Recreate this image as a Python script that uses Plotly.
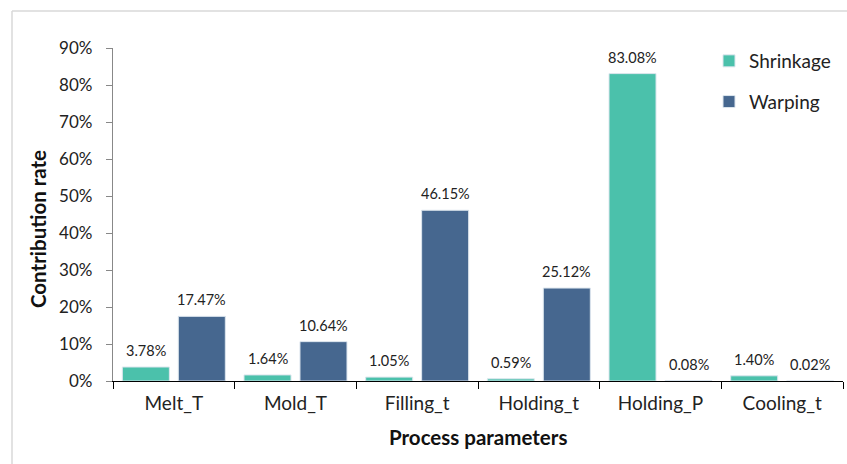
import plotly.graph_objects as go

# Process parameters and their contribution rates (%)
params = ["Melt_T", "Mold_T", "Filling_t", "Holding_t", "Holding_P", "Cooling_t"]
shrinkage = [3.78, 1.64, 1.05, 0.59, 83.08, 1.40]
warping = [17.47, 10.64, 46.15, 25.12, 0.08, 0.02]
y_ticks = [0, 10, 20, 30, 40, 50, 60, 70, 80, 90]

FONT = "Lato, 'Open Sans', sans-serif"
TEAL = "#4BC1AB"
NAVY = "#46678F"

W, H = 847, 464
L, R, T, B = 113, 4, 48, 83
pw, ph = W - L - R, H - T - B


def px_x(x):
    return (x - L) / pw


def px_y(y):
    return (H - B - y) / ph


fig = go.Figure()
annotations = []
for name, vals, color, grp, shift in [("Shrinkage", shrinkage, TEAL, "a", -28),
                                      ("Warping", warping, NAVY, "b", 28)]:
    fig.add_trace(go.Bar(
        name=name,
        x=params,
        y=[v / 100 for v in vals],
        marker=dict(color=color, line=dict(color="#DDE6EE", width=1)),
        legendgroup=grp,
    ))
    # value labels above each bar
    for p, v in zip(params, vals):
        annotations.append(dict(
            x=p, y=v / 100, xref="x", yref="y", text=f"{v:.2f}%",
            showarrow=False, xanchor="center", yanchor="bottom",
            xshift=shift, yshift=6,
            font=dict(family=FONT, size=14.5, color="#222"),
        ))

annotations += [
    dict(text="<b>Process parameters</b>", xref="paper", yref="paper",
         x=0.5, y=px_y(437), showarrow=False,
         xanchor="center", yanchor="middle",
         font=dict(family=FONT, size=20.5, color="#111")),
    dict(text="<b>Contribution rate</b>", xref="paper", yref="paper",
         x=px_x(38), y=px_y(229), showarrow=False, textangle=-90,
         xanchor="center", yanchor="middle",
         font=dict(family=FONT, size=20.5, color="#111")),
]

# light chart frame: only its left and top edges lie inside the page
fig.update_layout(
    width=W, height=H,
    margin=dict(l=L, r=R, t=T, b=B),
    paper_bgcolor="white",
    plot_bgcolor="white",
    barmode="group",
    bargap=0.08,
    bargroupgap=0.16,
    font=dict(family=FONT, size=17, color="#222"),
    showlegend=True,
    legend=dict(
        x=px_x(709), y=px_y(42), xanchor="left", yanchor="top",
        font=dict(family=FONT, size=19, color="#222"),
        tracegroupgap=13,
        bgcolor="rgba(0,0,0,0)",
    ),
    xaxis=dict(
        showline=True, linecolor="#000", linewidth=1.3,
        ticks="outside", tickson="boundaries", ticklen=7,
        tickcolor="#000", tickwidth=1.3,
        showgrid=False,
        ticklabelstandoff=5,
        tickfont=dict(family=FONT, size=19, color="#222"),
    ),
    yaxis=dict(
        range=[0, 0.9],
        tickvals=[v / 100 for v in y_ticks],
        ticktext=[f"{v}%" for v in y_ticks],
        showline=True, linecolor="#888", linewidth=1.3,
        ticks="outside", ticklen=6, tickcolor="#888",
        showgrid=False, zeroline=False,
        ticklabelstandoff=10,
        tickfont=dict(family=FONT, size=17, color="#222"),
    ),
    annotations=annotations,
    shapes=[
        dict(type="line", xref="paper", yref="paper", layer="below",
             x0=px_x(12), x1=px_x(12), y0=px_y(500), y1=px_y(11),
             line=dict(color="#D9D9D9", width=1.5)),
        dict(type="line", xref="paper", yref="paper", layer="below",
             x0=px_x(12), x1=px_x(1000), y0=px_y(11), y1=px_y(11),
             line=dict(color="#D9D9D9", width=1.5)),
    ],
)

fig.write_html("out.html", config={"displayModeBar": False})
